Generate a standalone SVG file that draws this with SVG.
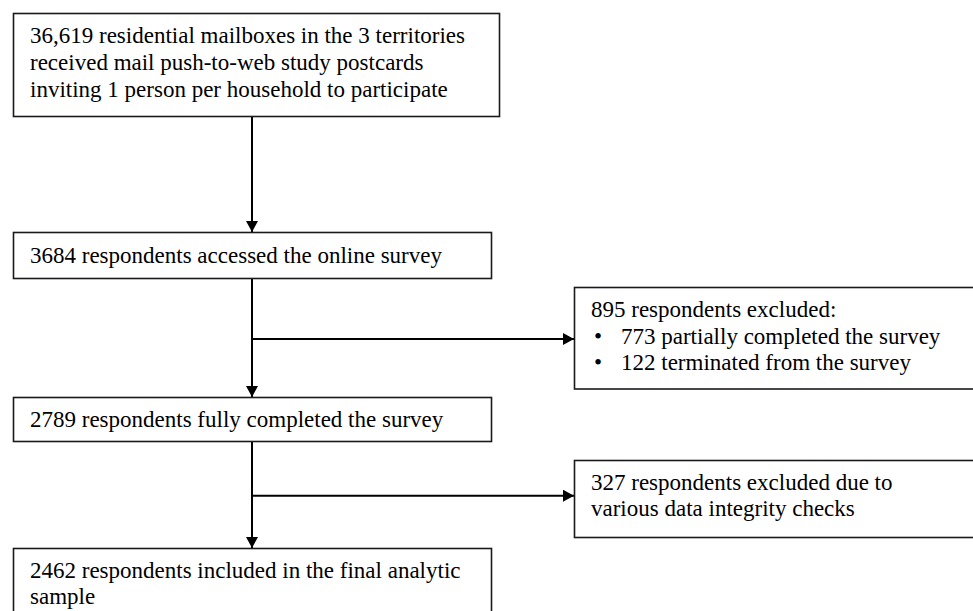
<svg xmlns="http://www.w3.org/2000/svg" width="973" height="611" viewBox="0 0 973 611">
<style>
  .box { fill: #fff; stroke: #1a1a1a; stroke-width: 1.6; }
  .t { font-family: "Liberation Serif", "Times New Roman", serif; font-size: 23px; fill: #000; }
  .c { fill: none; stroke: #000; stroke-width: 2; }
</style>
<defs>
  <marker id="ah" markerUnits="userSpaceOnUse" markerWidth="12" markerHeight="12" refX="11" refY="6" orient="auto" viewBox="0 0 12 12">
    <path d="M0,0 L11,6 L0,12 Z" fill="#000"/>
  </marker>
</defs>
<rect width="973" height="611" fill="#fff"/>
<g id="connectors">
  <line class="c" x1="252" y1="116.5" x2="252" y2="232" marker-end="url(#ah)"/>
  <line class="c" x1="252" y1="278.5" x2="252" y2="397" marker-end="url(#ah)"/>
  <line class="c" x1="252" y1="339" x2="574" y2="339" marker-end="url(#ah)"/>
  <line class="c" x1="252" y1="441.5" x2="252" y2="548" marker-end="url(#ah)"/>
  <line class="c" x1="252" y1="495.7" x2="574" y2="495.7" marker-end="url(#ah)"/>
</g>
<g id="n1">
  <rect class="box" x="13.5" y="13.5" width="486" height="103"/>
  <text class="t" x="30" y="43">36,619 residential mailboxes in the 3 territories</text>
  <text class="t" x="30" y="70">received mail push-to-web study postcards</text>
  <text class="t" x="30" y="97">inviting 1 person per household to participate</text>
</g>
<g id="n2">
  <rect class="box" x="13.5" y="232.5" width="478" height="46"/>
  <text class="t" x="30" y="263">3684 respondents accessed the online survey</text>
</g>
<g id="n3">
  <rect class="box" x="13.5" y="397.5" width="478" height="44"/>
  <text class="t" x="30" y="427">2789 respondents fully completed the survey</text>
</g>
<g id="n4">
  <rect class="box" x="13.5" y="548.5" width="478" height="80"/>
  <text class="t" x="30" y="577.5">2462 respondents included in the final analytic</text>
  <text class="t" x="30" y="603.5">sample</text>
</g>
<g id="n5">
  <rect class="box" x="574.5" y="287.5" width="402" height="101.5"/>
  <text class="t" x="591" y="317">895 respondents excluded:</text>
  <text class="t" x="594" y="343.5">•</text>
  <text class="t" x="621" y="343.5">773 partially completed the survey</text>
  <text class="t" x="594" y="370">•</text>
  <text class="t" x="621" y="370">122 terminated from the survey</text>
</g>
<g id="n6">
  <rect class="box" x="574.5" y="460.5" width="402" height="77"/>
  <text class="t" x="591" y="490">327 respondents excluded due to</text>
  <text class="t" x="591" y="516">various data integrity checks</text>
</g>
</svg>
